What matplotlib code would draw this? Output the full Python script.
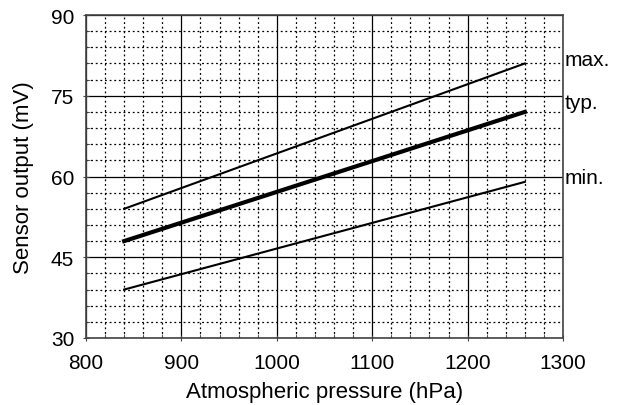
import numpy as np
import matplotlib
matplotlib.use("Agg")
import matplotlib.pyplot as plt
from matplotlib.ticker import MultipleLocator

plt.rcParams['font.family'] = ['Liberation Sans', 'DejaVu Sans']

# data
pressure = [840, 1260]
out_max = [54, 81]
out_typ = [48, 72]
out_min = [39, 59]
curve_labels = ["max.", "typ.", "min."]
label_y = [81.8, 73.8, 59.8]

fig = plt.figure(figsize=(6.24, 4.06), dpi=100)
ax = fig.add_axes([86 / 624, 1 - 339 / 406, 477 / 624, 323 / 406])

ax.set_xlim(800, 1300)
ax.set_ylim(30, 90)
ax.xaxis.set_major_locator(MultipleLocator(100))
ax.xaxis.set_minor_locator(MultipleLocator(20))
ax.yaxis.set_major_locator(MultipleLocator(15))
ax.yaxis.set_minor_locator(MultipleLocator(3))

ax.grid(True, which='major', color='black', linewidth=0.9)
ax.grid(True, which='minor', color='black', linewidth=0.9, linestyle=(0, (1.5, 2.2)))
ax.set_axisbelow(True)

ax.plot(pressure, out_max, color='black', linewidth=1.5)
ax.plot(pressure, out_typ, color='black', linewidth=3.0)
ax.plot(pressure, out_min, color='black', linewidth=1.5)

for lab, yv in zip(curve_labels, label_y):
    ax.text(1302, yv, lab, fontsize=15, va='center', ha='left', clip_on=False)

for sp in ax.spines.values():
    sp.set_color('#444444')
    sp.set_linewidth(1.2)

ax.tick_params(which='major', direction='inout', length=5, labelsize=15,
               colors='#444444', labelcolor='black')
ax.tick_params(axis='x', which='major', pad=8)
ax.tick_params(axis='y', which='major', pad=6)
ax.tick_params(which='minor', direction='in', length=3, colors='#444444')

ax.set_xlabel("Atmospheric pressure (hPa)", fontsize=16, labelpad=7)
ax.set_ylabel("Sensor output (mV)", fontsize=16, labelpad=12)

fig.savefig("out.png", dpi=100)
